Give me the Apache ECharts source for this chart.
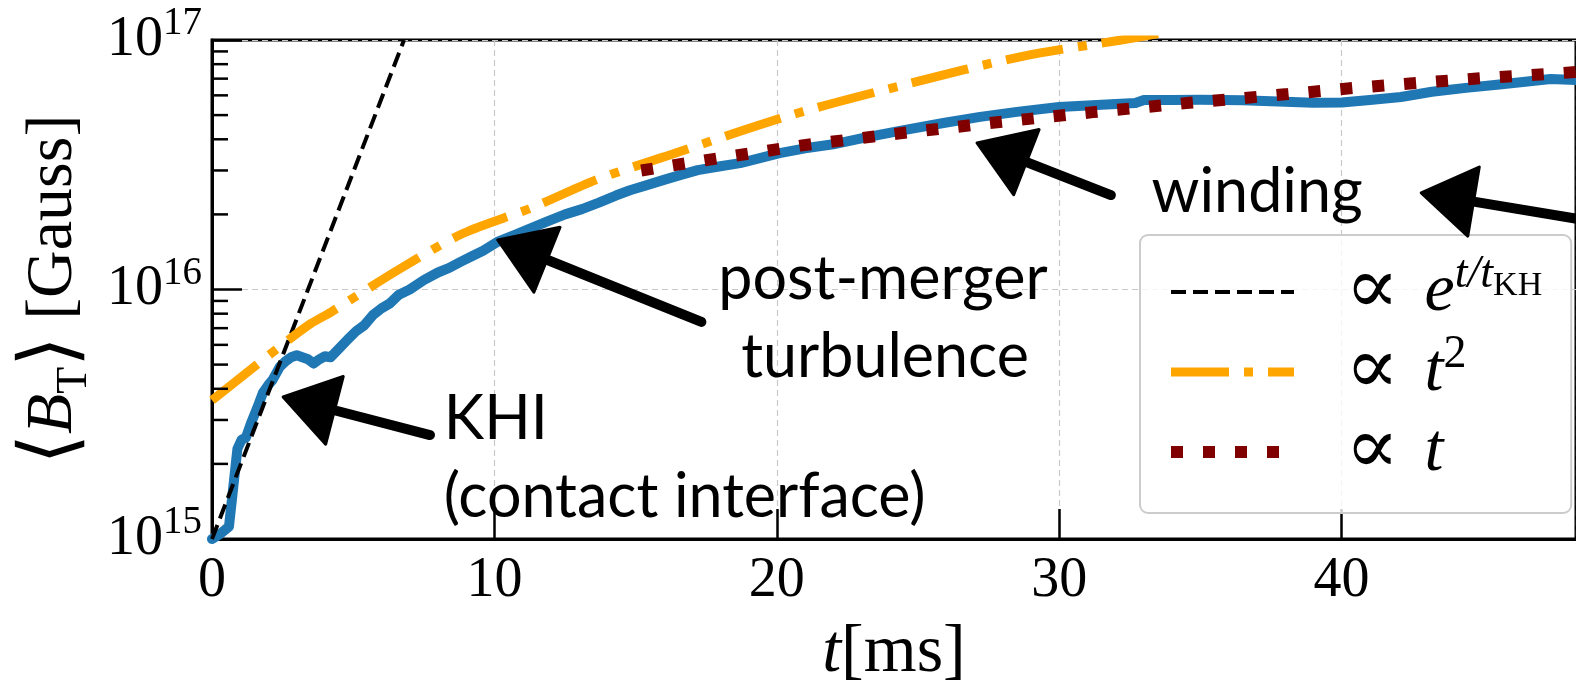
<!DOCTYPE html>
<html>
<head>
<meta charset="utf-8">
<script src="https://cdn.jsdelivr.net/npm/echarts@6/dist/echarts.min.js"></script>
<style>
html, body { margin: 0; padding: 0; background: #fff; }
#chart { width: 1576px; height: 693px; }
</style>
</head>
<body>
<div id="chart"></div>
<script>
// simulation curve <B_T> [Gauss] vs t [ms]
const simT = [0, 0.3, 0.6, 0.75, 0.9, 1.05, 1.2, 1.4, 1.6, 1.8, 2.0, 2.15, 2.4, 2.6, 2.8, 3.0, 3.2, 3.4, 3.6, 3.8,
  4.0, 4.2, 4.5, 4.8, 5.1, 5.4, 5.7, 6.0, 6.3, 6.6, 7.0, 7.5, 8.0, 8.4, 8.8, 9.2, 9.6, 10.1, 10.7, 11.3,
  11.9, 12.5, 13.1, 13.7, 14.3, 14.8, 15.4, 16.0, 16.6, 17.2, 18.0, 18.7, 19.4, 20.1, 21.0, 22.0, 23.2, 24.5, 25.9, 27.2,
  28.5, 30.0, 31.5, 32.7, 33.0, 34.0, 35.0, 36.5, 38.0, 39.0, 40.0, 41.0, 42.1, 43.2, 44.4, 45.5, 46.5, 47.4, 48.3]
const simB = [1.0e15, 1.05e15, 1.12e15, 1.6e15, 2.3e15, 2.5e15, 2.55e15, 2.95e15, 3.35e15, 3.85e15, 4.15e15, 4.35e15, 4.9e15, 5.15e15, 5.35e15, 5.45e15, 5.35e15, 5.25e15, 5.05e15, 5.25e15,
  5.4e15, 5.35e15, 5.8e15, 6.3e15, 6.8e15, 7.2e15, 7.9e15, 8.4e15, 8.8e15, 9.5e15, 1.0e16, 1.09e16, 1.17e16, 1.22e16, 1.29e16, 1.36e16, 1.43e16, 1.55e16, 1.65e16, 1.76e16,
  1.88e16, 2.0e16, 2.1e16, 2.23e16, 2.38e16, 2.5e16, 2.62e16, 2.75e16, 2.88e16, 3.01e16, 3.12e16, 3.21e16, 3.36e16, 3.52e16, 3.68e16, 3.82e16, 4.08e16, 4.35e16, 4.65e16, 4.92e16,
  5.15e16, 5.39e16, 5.5e16, 5.59e16, 5.75e16, 5.75e16, 5.76e16, 5.74e16, 5.65e16, 5.6e16, 5.62e16, 5.75e16, 5.91e16, 6.2e16, 6.43e16, 6.62e16, 6.8e16, 6.98e16, 6.92e16]

// reference scalings
const expT = [0, 3.4, 6.8]
const expB = [1e15, 1e16, 1e17]
const quadT = [0, 0.75, 2.4, 3.5, 4.2, 6.6, 8.9, 11.3, 13.6, 16.0, 20.5, 24.6, 28.7, 32.2, 33.5]
const quadB = [3.6e15, 4.2e15, 5.9e15, 7.3e15, 8.1e15, 1.2e16, 1.68e16, 2.12e16, 2.75e16, 3.4e16, 5.0e16, 6.65e16, 8.6e16, 1.0e17, 1.06e17]
const linT = [15.2, 17.5, 20.9, 24.3, 27.8, 31.2, 34.6, 38.1, 40.4, 42.7, 45.0, 47.3, 48.3]
const linB = [3.0e16, 3.3e16, 3.78e16, 4.22e16, 4.68e16, 5.14e16, 5.6e16, 6.07e16, 6.42e16, 6.73e16, 7.04e16, 7.31e16, 7.44e16]

const minorTicks = [2e15, 3e15, 4e15, 5e15, 6e15, 7e15, 8e15, 9e15, 2e16, 3e16, 4e16, 5e16, 6e16, 7e16, 8e16, 9e16]

// annotations (data coords)
const notes = ['KHI', '(contact interface)', 'post-merger', 'turbulence', 'winding']
const notePos = [[8.21, 3.03e15], [8.21, 1.47e15], [17.93, 1.10e16], [18.74, 5.36e15], [33.27, 2.46e16]]
const arrowTips = [[2.52, 3.71e15], [10.12, 1.58e16], [27.09, 3.87e16], [42.82, 2.44e16]]
const arrowTails = [[7.72, 2.61e15], [17.33, 7.41e15], [31.83, 2.39e16], [49.08, 1.86e16]]

const zip = (a, b) => a.map((v, i) => [v, b[i]])
const serif = 'Liberation Serif'

const legendText = {
  exp: '{g| }{p|∝ }{i|e}{u|t/t}{k|KH}',
  quad: '{g| }{p|∝ }{i|t}{s|2}',
  lin: '{g| }{p|∝ }{i|t}'
}

let chart = echarts.init(document.getElementById('chart'))
chart.setOption({
  animation: false,
  grid: { left: 212, right: -2, top: 40, bottom: 154, show: true, borderColor: '#000', borderWidth: 3 },
  xAxis: {
    type: 'value', min: 0, max: 48.3, interval: 10,
    name: '{t|t}{r|[ms]}', nameLocation: 'middle', nameGap: 76,
    nameTextStyle: {
      rich: {
        t: { fontFamily: serif, fontStyle: 'italic', fontSize: 68, lineHeight: 76, color: '#000' },
        r: { fontFamily: serif, fontSize: 68, lineHeight: 76, color: '#000' }
      }
    },
    axisLine: { lineStyle: { color: '#000', width: 3 } },
    axisTick: { inside: true, length: 30, lineStyle: { color: '#000', width: 2.5 } },
    axisLabel: { fontFamily: serif, fontSize: 56, color: '#000', margin: 14, showMaxLabel: false },
    splitLine: { show: true, lineStyle: { color: '#c8c8c8', width: 1.2, type: [6, 4] } }
  },
  yAxis: {
    type: 'log', min: 1e15, max: 1e17, logBase: 10,
    name: '{a|⟨}{b|B}{c|T}{a|⟩}{r| [Gauss]}', nameLocation: 'middle', nameGap: 116,
    nameTextStyle: {
      rich: {
        a: { fontFamily: 'DejaVu Serif', fontSize: 78, lineHeight: 84, color: '#000' },
        b: { fontFamily: serif, fontStyle: 'italic', fontSize: 66, lineHeight: 84, color: '#000' },
        c: { fontFamily: serif, fontSize: 44, lineHeight: 52, verticalAlign: 'bottom', color: '#000' },
        r: { fontFamily: serif, fontSize: 66, lineHeight: 84, color: '#000' }
      }
    },
    axisLine: { lineStyle: { color: '#000', width: 3 } },
    axisTick: { inside: true, length: 30, lineStyle: { color: '#000', width: 2.5 } },
    axisLabel: {
      margin: 10,
      formatter: v => '{b|10}{s|' + Math.round(Math.log10(v)) + '}',
      rich: {
        b: { fontFamily: serif, fontSize: 56, lineHeight: 56, color: '#000' },
        s: { fontFamily: serif, fontSize: 39, lineHeight: 39, padding: [0, 0, 32, 0], color: '#000' }
      }
    },
    splitLine: { show: true, lineStyle: { color: '#c8c8c8', width: 1.2, type: [6, 4] } }
  },
  legend: {
    orient: 'vertical', left: 1140, top: 235,
    padding: [17, 29, 21, 25], itemGap: 0, itemWidth: 123, itemHeight: 85,
    backgroundColor: 'rgba(255,255,255,0.8)', borderColor: '#cccccc', borderWidth: 2, borderRadius: 8,
    lineStyle: { width: 'inherit' },
    itemStyle: { opacity: 0 },
    data: ['exp', 'quad', 'lin'],
    formatter: name => legendText[name],
    textStyle: {
      rich: {
        g: { width: 46, lineHeight: 85 },
        p: { fontFamily: 'DejaVu Serif', fontSize: 80, lineHeight: 85, color: '#000' },
        i: { fontFamily: serif, fontStyle: 'italic', fontSize: 68, lineHeight: 85, color: '#000' },
        u: { fontFamily: serif, fontStyle: 'italic', fontSize: 46, lineHeight: 40, padding: [0, 0, 34, 0], color: '#000' },
        k: { fontFamily: serif, fontSize: 34, lineHeight: 34, padding: [0, 0, 12, 0], color: '#000' },
        s: { fontFamily: serif, fontSize: 46, lineHeight: 40, padding: [0, 0, 34, 0], color: '#000' }
      }
    }
  },
  series: [
    {
      name: 'sim', type: 'line', data: zip(simT, simB), symbol: 'none',
      lineStyle: { color: '#1f77b4', width: 10, join: 'round', cap: 'round' }, z: 2
    },
    {
      name: 'exp', type: 'line', data: zip(expT, expB), symbol: 'none', color: '#000',
      lineStyle: { color: '#000', width: 4, type: [15, 7] }, z: 3
    },
    {
      name: 'quad', type: 'line', data: zip(quadT, quadB), symbol: 'none', smooth: 0.3, color: '#ffa500',
      lineStyle: { color: '#ffa500', width: 9, type: [58, 15, 9, 15] }, z: 4
    },
    {
      name: 'lin', type: 'line', data: zip(linT, linB), symbol: 'none', color: '#800000',
      lineStyle: { color: '#800000', width: 12, type: [12, 20], cap: 'butt' }, z: 5
    },
    {
      // minor ticks of the log axis
      type: 'custom', data: minorTicks, silent: true, z: 6,
      renderItem: (params, api) => {
        let p = api.coord([0, api.value(0)])
        return { type: 'line', shape: { x1: p[0], y1: p[1], x2: p[0] + 16, y2: p[1] }, style: { stroke: '#000', lineWidth: 2.5 } }
      },
      encode: { y: 0 }
    }
  ]
})

// hand-drawn style arrows and labels, anchored on data coordinates
let graphics = []
notes.forEach((txt, i) => {
  let p = chart.convertToPixel({ gridIndex: 0 }, notePos[i])
  graphics.push({
    type: 'text', x: p[0], y: p[1], z: 10,
    style: { text: txt, fontFamily: 'Lato', fontSize: 61, fill: '#000', align: 'left', verticalAlign: 'middle', textAlign: 'left', textVerticalAlign: 'middle' }
  })
})
arrowTips.forEach((tip, i) => {
  let a = chart.convertToPixel({ gridIndex: 0 }, tip)
  let b = chart.convertToPixel({ gridIndex: 0 }, arrowTails[i])
  let dx = b[0] - a[0], dy = b[1] - a[1]
  let len = Math.sqrt(dx * dx + dy * dy)
  let ux = dx / len, uy = dy / len
  let mx = a[0] + ux * 53, my = a[1] + uy * 53
  graphics.push({
    type: 'polygon', z: 10,
    shape: { points: [a, [mx - uy * 35, my + ux * 35], [mx + uy * 35, my - ux * 35]] },
    style: { fill: '#000', stroke: '#000', lineWidth: 3, lineJoin: 'round' }
  })
  graphics.push({
    type: 'line', z: 10,
    shape: { x1: mx - ux * 6, y1: my - uy * 6, x2: b[0], y2: b[1] },
    style: { stroke: '#000', lineWidth: 10, lineCap: 'round' }
  })
})
chart.setOption({ graphic: graphics })
</script>
</body>
</html>
